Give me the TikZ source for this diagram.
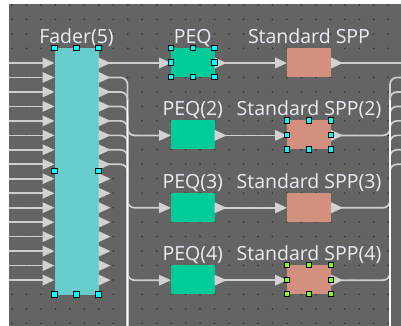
\documentclass[tikz,border=0pt]{standalone}
\usepackage{fontspec}
\setmainfont{Open Sans}
\usetikzlibrary{calc}
\definecolor{bg}{HTML}{646464}
\definecolor{dotc}{HTML}{3A3A3A}
\definecolor{faderc}{HTML}{66CCCC}
\definecolor{peqc}{HTML}{00CC99}
\definecolor{sppc}{HTML}{D3907E}
\definecolor{wirec}{HTML}{CFCFCF}
\definecolor{tric}{HTML}{D2D2D2}
\definecolor{txtc}{HTML}{E8EEF6}
\definecolor{hcyan}{HTML}{00FFFF}
\definecolor{hlime}{HTML}{88FF00}
\newcommand{\mytri}[2]{\fill[tric] (#1,#2-5.5) -- (#1+12,#2) -- (#1,#2+5.5) -- cycle;}
\newcommand{\myhnd}[3]{\filldraw[fill=#3,draw=black,line width=0.9pt] (#1-2.6,#2-2.6) rectangle (#1+2.6,#2+2.6);}
\tikzset{
  blk/.style={draw=none,inner sep=0pt,minimum width=44pt,minimum height=29pt},
  faderbox/.style={blk,fill=faderc,minimum height=246.5pt},
  peqbox/.style={blk,fill=peqc,minimum width=43.5pt},
  sppbox/.style={blk,fill=sppc},
  lbl/.style={text=txtc,font=\fontsize{19.5}{22}\selectfont,anchor=base,inner sep=0pt},
  wire/.style={draw=wirec,line width=1.7pt},
  bund/.style={wire,rounded corners=7pt}
}
\begin{document}
\begin{tikzpicture}[x=1pt,y=-1pt]
\useasboundingbox (0,0) rectangle (401,326);
\fill[white] (0,0) rectangle (401,326);
\fill[bg] (9,4) rectangle (401,326);
\foreach \i in {0,...,26}{\foreach \j in {0,...,22}{\fill[dotc] ({12+\i*14.47},{5+\j*14.47}) circle (1);}}
% blocks
\node[faderbox] (F) at (76.5,171.25) {};
\foreach \n/\t in {1/48,2/120.4,3/192.8,4/265.2}{
  \node[peqbox] (P\n) at (192.75,\t+14.5) {};
  \node[sppbox] (S\n) at (309,\t+14.5) {};
  \coordinate (pi\n) at (159,\t+15);
  \coordinate (po\n) at (214.5,\t+15);
  \coordinate (si\n) at (275,\t+15);
  \coordinate (so\n) at (331,\t+15);
  \coordinate (bL\n) at (127.5,\t-5);
  \coordinate (bR\n) at (390,\t-5);
}
% labels
\node[lbl] (LF) at (76.5,43.3) {Fader(5)};
\node[lbl] (LP1) at (192.75,43.3) {PEQ};
\node[lbl] (LS1) at (309,43.3) {Standard SPP};
\node[lbl] (LP2) at (192.75,115.6) {PEQ(2)};
\node[lbl] (LS2) at (309,115.6) {Standard SPP(2)};
\node[lbl] (LP3) at (192.75,188) {PEQ(3)};
\node[lbl] (LS3) at (309,188) {Standard SPP(3)};
\node[lbl] (LP4) at (192.75,260.4) {PEQ(4)};
\node[lbl] (LS4) at (309,260.4) {Standard SPP(4)};
% fader ports
\foreach \k in {0,...,15}{
  \coordinate (lin\k) at (9,{63+\k*14.47});
  \coordinate (fi\k) at (43,{63+\k*14.47});
  \coordinate (fo\k) at (98.5,{63+\k*14.47});
}
\coordinate (botL) at (127.5,326);
\coordinate (botR) at (390,326);
\foreach \k in {1,...,7}{\coordinate (rin\k) at (401,{63+\k*14.47});}
\coordinate (rout1) at (401,63);
% wires
\foreach \k in {0,...,15}{\draw[wire] (lin\k) -- (fi\k);}
\draw[wire] (fo0) -- (pi1);
\foreach \k in {1,...,7}{\draw[bund] (fo\k) -| (botL);}
\foreach \n in {2,3,4}{\draw[bund] (bL\n) |- (pi\n);}
\foreach \n in {1,...,4}{\draw[wire] (po\n) -- (si\n);}
\draw[wire] (so1) -- (rout1);
\foreach \k in {1,...,7}{\draw[bund] (rin\k) -| (botR);}
\foreach \n in {2,3,4}{\draw[bund] (so\n) -| (bR\n);}
\draw[draw=white,line width=1.4pt] (127.5,100) -- (botL);
\draw[draw=white,line width=1.4pt] (390,100) -- (botR);
% triangles
\foreach \k in {0,...,15}{\mytri{42.5}{63+\k*14.47}\mytri{98.5}{63+\k*14.47}}
\foreach \t in {63,135.4,207.8,280.2}{\mytri{159}{\t}\mytri{214.5}{\t}\mytri{275}{\t}\mytri{331}{\t}}
% handles
\foreach \x/\y in {54.5/48,76.5/48,98.5/48,54.5/171.25,98.5/171.25,54.5/294.5,76.5/294.5,98.5/294.5}{\myhnd{\x}{\y}{hcyan}}
\foreach \x/\y in {171/48,192.75/48,214.5/48,171/62.5,214.5/62.5,171/77,192.75/77,214.5/77}{\myhnd{\x}{\y}{hcyan}}
\foreach \x/\y in {287/120.4,309/120.4,331/120.4,287/134.9,331/134.9,287/149.4,309/149.4,331/149.4}{\myhnd{\x}{\y}{hcyan}}
\foreach \x/\y in {287/265.2,309/265.2,331/265.2,287/279.7,331/279.7,287/294.2,309/294.2,331/294.2}{\myhnd{\x}{\y}{hlime}}
\end{tikzpicture}
\end{document}
